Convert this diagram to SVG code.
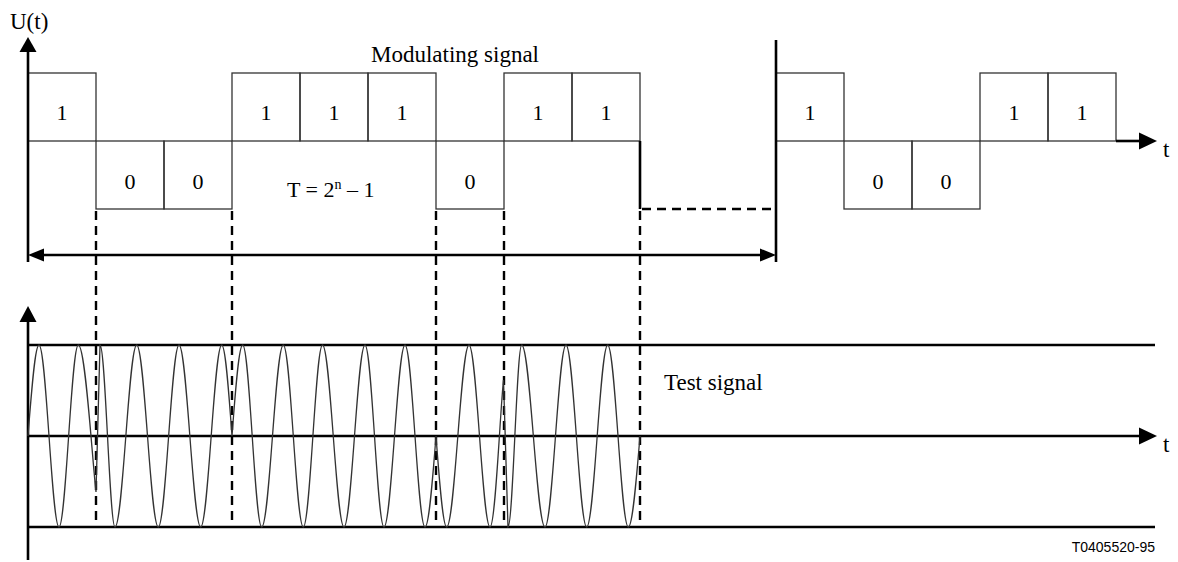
<svg xmlns="http://www.w3.org/2000/svg" width="1178" height="562" viewBox="0 0 1178 562">
<style>
.box{fill:none;stroke:#333;stroke-width:1.3}
.ax{fill:none;stroke:#000;stroke-width:2.6}
.dash{fill:none;stroke:#000;stroke-width:2.4;stroke-dasharray:9,6}
.head{fill:#000}
.wave{fill:none;stroke:#333;stroke-width:1.3}
.t{font-family:"Liberation Serif","Times New Roman",serif;font-size:22px;fill:#000}
.lbl{font-family:"Liberation Serif","Times New Roman",serif;font-size:23px;fill:#000}
.ref{font-family:"Liberation Sans",Arial,sans-serif;font-size:14px;fill:#000}
</style>
<rect width="1178" height="562" fill="#fff"/>

<g id="modulating-signal">
  <g id="bit-boxes">
    <rect class="box" x="28" y="73" width="68" height="68"/>
    <rect class="box" x="96" y="141" width="68" height="68"/>
    <rect class="box" x="164" y="141" width="68" height="68"/>
    <rect class="box" x="232" y="73" width="68" height="68"/>
    <rect class="box" x="300" y="73" width="68" height="68"/>
    <rect class="box" x="368" y="73" width="68" height="68"/>
    <rect class="box" x="436" y="141" width="68" height="68"/>
    <rect class="box" x="504" y="73" width="68" height="68"/>
    <rect class="box" x="572" y="73" width="68" height="68"/>
    <rect class="box" x="776" y="73" width="68" height="68"/>
    <rect class="box" x="844" y="141" width="68" height="68"/>
    <rect class="box" x="912" y="141" width="68" height="68"/>
    <rect class="box" x="980" y="73" width="68" height="68"/>
    <rect class="box" x="1048" y="73" width="68" height="68"/>
  </g>
  <g id="bit-labels" text-anchor="middle">
    <text class="t" x="62" y="120">1</text>
    <text class="t" x="130" y="189">0</text>
    <text class="t" x="198" y="189">0</text>
    <text class="t" x="266" y="120">1</text>
    <text class="t" x="334" y="120">1</text>
    <text class="t" x="402" y="120">1</text>
    <text class="t" x="470" y="189">0</text>
    <text class="t" x="538" y="120">1</text>
    <text class="t" x="606" y="120">1</text>
    <text class="t" x="810" y="120">1</text>
    <text class="t" x="878" y="189">0</text>
    <text class="t" x="946" y="189">0</text>
    <text class="t" x="1014" y="120">1</text>
    <text class="t" x="1082" y="120">1</text>
  </g>
  <text class="lbl" x="455" y="62" text-anchor="middle">Modulating signal</text>
  <text class="t" x="287" y="197">T = 2<tspan dy="-8" font-size="14">n</tspan><tspan dy="8"> – 1</tspan></text>
  <text class="lbl" x="10" y="29">U(t)</text>
  <text class="lbl" x="1163" y="157">t</text>
</g>

<g id="axes">
  <path class="ax" d="M28,50 V262"/>
  <polygon class="head" points="28,37 19.5,52 36.5,52"/>
  <path class="ax" d="M1116,141 H1142"/>
  <polygon class="head" points="1157,141 1139,132.5 1139,149.5"/>
  <path class="ax" d="M640,141 V209"/>
  <path class="ax" d="M776,40 V262"/>
  <path class="ax" d="M28,320 V560"/>
  <polygon class="head" points="28,306 19.5,322 36.5,322"/>
  <path class="ax" d="M28,345 H1155"/>
  <path class="ax" d="M28,436 H1142"/>
  <polygon class="head" points="1157,436 1139,427.5 1139,444.5"/>
  <path class="ax" d="M28,527 H1155"/>
</g>

<g id="connectors">
  <path class="ax" d="M40,255 H764"/>
  <polygon class="head" points="28,255 44,248.5 44,261.5"/>
  <polygon class="head" points="776,255 760,248.5 760,261.5"/>
  <path class="dash" d="M642,209 H776"/>
  <path class="dash" d="M96,211 V527"/>
  <path class="dash" d="M232,211 V527"/>
  <path class="dash" d="M436,211 V527"/>
  <path class="dash" d="M504,211 V527"/>
  <path class="dash" d="M640,211 V527"/>
</g>

<g id="test-signal">
  <path class="wave" d="M28,436 C31.85,386 35.15,345 39,345
C46.3,345 51.7,527 59,527
C66,527 71.3,345 78.3,345
C85.3,345 91.6,452 96,492
L100,345
C105.5,345 109.5,527 115,527
C122.9,527 128.8,345 136.7,345
C144.6,345 150.4,527 158.3,527
C165.8,527 171.5,345 179,345
C186.9,345 192.8,527 200.7,527
C208.3,527 214.1,345 221.7,345
C225.3,345 228.4,386 232,436
C235.7,386 239,345 242.7,345
C249.6,345 254.8,527 261.7,527
C269.6,527 275.4,345 283.3,345
C290.6,345 296,527 303.3,527
C310.3,527 315.5,345 322.5,345
C330.3,345 336.2,527 344,527
C351.6,527 357.4,345 365,345
C371.9,345 377.1,527 384,527
C391.6,527 397.4,345 405,345
C412.3,345 417.7,527 425,527
C428.85,527 432.15,486 436,436
C439.75,486 443,527 446.7,527
C454.8,527 460.9,345 469,345
C476.6,345 482.4,527 490,527
C495.4,527 500.1,411 503.5,380
L508,527
C513,527 516.7,345 521.7,345
C530.2,345 536.5,527 545,527
C552.6,527 558.4,345 566,345
C573.5,345 579.2,527 586.7,527
C594.3,527 600.1,345 607.7,345
C615.2,345 620.8,527 628.3,527
C632.4,527 635.9,486 640,436"/>
  <text class="lbl" x="664" y="390">Test signal</text>
  <text class="lbl" x="1163" y="452">t</text>
</g>

<text class="ref" x="1155" y="552" text-anchor="end">T0405520-95</text>
</svg>
